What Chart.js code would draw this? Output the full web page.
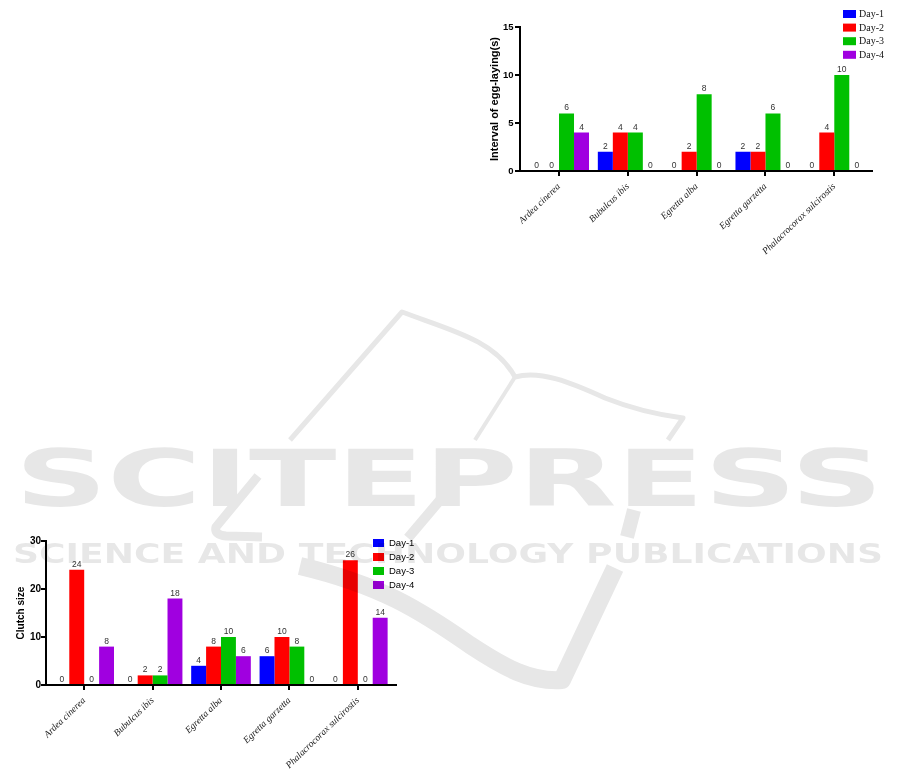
<!DOCTYPE html>
<html>
<head>
<meta charset="utf-8">
<script src="https://cdn.jsdelivr.net/npm/chart.js@4.4.1/dist/chart.umd.min.js"></script>
<style>
  html, body { margin: 0; padding: 0; background: #fff; }
  body { width: 901px; height: 778px; position: relative; overflow: hidden; }
  .box { position: absolute; }
  #intervalBox { left: 470px; top: 0; width: 420px; height: 270px; }
  #clutchBox { left: 0; top: 520px; width: 430px; height: 258px; }
  #mark { position: absolute; left: 0; top: 0; pointer-events: none; }
</style>
</head>
<body>
<div class="box" id="intervalBox"><canvas id="interval-chart"></canvas></div>
<div class="box" id="clutchBox"><canvas id="clutch-chart"></canvas></div>

<svg id="mark" width="901" height="778" xmlns="http://www.w3.org/2000/svg">
  <g opacity="0.095" fill="#000" stroke="#000" stroke-linecap="butt" stroke-linejoin="round">
    <text x="15" y="506" stroke="none" font-family="DejaVu Sans" font-weight="bold" font-size="79" textLength="868" lengthAdjust="spacingAndGlyphs">SCITEPRESS</text>
    <text x="13" y="563" stroke="none" font-family="DejaVu Sans" font-weight="bold" font-size="26" textLength="870" lengthAdjust="spacingAndGlyphs">SCIENCE AND TECHNOLOGY PUBLICATIONS</text>
    <path d="M290,440 L402,312 C450,330 495,340 515,377" fill="none" stroke-width="5"/>
    <path d="M515,377 L475,440" fill="none" stroke-width="4"/>
    <path d="M515,377 C540,370 570,382 605,398 C635,410 660,415 683,418 L668,440" fill="none" stroke-width="5"/>
    <path d="M258,476 L216,527 Q214,535 226,536 L262,537" fill="none" stroke-width="9"/>
    <path d="M452,486 L408,538" fill="none" stroke-width="10"/>
    <path d="M634,510 L627,537" fill="none" stroke-width="14"/>
    <path d="M300,566 C380,585 420,610 470,645 C505,668 530,682 562,680 L615,568" fill="none" stroke-width="18"/>
  </g>
</svg>

<script>
const speciesLabels = ["Ardea cinerea", "Bubulcus ibis", "Egretta alba", "Egretta garzetta", "Phalacrocorax sulcirostis"];
const dayNames = ["Day-1", "Day-2", "Day-3", "Day-4"];
const dayColors = ["#0000FF", "#FF0000", "#00C000", "#A000E0"];

// interval of egg-laying (top right chart)
const intervalDay1 = [0, 2, 0, 2, 0];
const intervalDay2 = [0, 4, 2, 2, 4];
const intervalDay3 = [6, 4, 8, 6, 10];
const intervalDay4 = [4, 0, 0, 0, 0];
const intervalTicks = [0, 5, 10, 15];

// clutch size (bottom left chart)
const clutchDay1 = [0, 0, 4, 6, 0];
const clutchDay2 = [24, 2, 8, 10, 26];
const clutchDay3 = [0, 2, 10, 8, 0];
const clutchDay4 = [8, 18, 6, 0, 14];
const clutchTicks = [0, 10, 20, 30];

// numbers above every bar, zeros included
const barValueLabels = {
    id: "barValueLabels",
    afterDatasetsDraw(chart) {
        const ctx = chart.ctx;
        ctx.save();
        ctx.font = "8.5px 'Liberation Sans', Arial, sans-serif";
        ctx.fillStyle = "#333";
        ctx.textAlign = "center";
        ctx.textBaseline = "alphabetic";
        chart.data.datasets.forEach((ds, i) => {
            chart.getDatasetMeta(i).data.forEach((bar, j) => {
                ctx.fillText(ds.data[j], bar.x, bar.y - 3);
            });
        });
        ctx.restore();
    },
};

// Prism style axes: a little gap between the y axis and the first group
const prismAxes = {
    id: "prismAxes",
    afterDraw(chart, args, opts) {
        const { ctx, chartArea, scales } = chart;
        const left = opts.left;
        const right = opts.right;
        const bottom = Math.round(scales.y.getPixelForValue(0));
        ctx.save();
        ctx.strokeStyle = "#000";
        ctx.lineWidth = 2;
        ctx.beginPath();
        ctx.moveTo(left, chartArea.top - 1);
        ctx.lineTo(left, bottom);
        ctx.lineTo(right, bottom);
        scales.y.ticks.forEach((t) => {
            const py = Math.round(scales.y.getPixelForValue(t.value));
            ctx.moveTo(left - 5, py);
            ctx.lineTo(left, py);
        });
        scales.x.ticks.forEach((t, i) => {
            const px = Math.round(scales.x.getPixelForTick(i));
            ctx.moveTo(px, bottom);
            ctx.lineTo(px, bottom + 5);
        });
        ctx.stroke();
        ctx.restore();
    },
};

const sideLegend = {
    id: "sideLegend",
    afterDraw(chart, args, opts) {
        const ctx = chart.ctx;
        ctx.save();
        ctx.font = opts.font;
        ctx.textAlign = "left";
        ctx.textBaseline = "middle";
        chart.data.datasets.forEach((ds, i) => {
            const cy = opts.y + i * opts.step;
            ctx.fillStyle = ds.backgroundColor;
            ctx.fillRect(opts.x, cy - opts.boxH / 2, opts.boxW, opts.boxH);
            ctx.fillStyle = opts.color;
            ctx.fillText(ds.label, opts.x + opts.boxW + opts.gap, cy + 0.5);
        });
        ctx.restore();
    },
};

function makeDatasets(series) {
    return series.map((values, i) => ({
        label: dayNames[i],
        data: values,
        backgroundColor: dayColors[i],
        borderWidth: 0,
        barPercentage: 1,
        categoryPercentage: 0.872,
    }));
}

function makeConfig(series, ticks, title, fit) {
    return {
        type: "bar",
        data: {
            labels: speciesLabels,
            datasets: makeDatasets(series),
        },
        options: {
            responsive: true,
            maintainAspectRatio: false,
            animation: false,
            events: [],
            layout: { padding: fit.padding },
            plugins: {
                legend: { display: false },
                tooltip: { enabled: false },
                prismAxes: fit.axes,
                sideLegend: fit.legend,
            },
            scales: {
                x: {
                    grid: { display: false },
                    border: { display: false },
                    ticks: {
                        autoSkip: false,
                        minRotation: 44,
                        maxRotation: 44,
                        padding: fit.xPad,
                        color: "#222",
                        font: { family: "'Liberation Serif', 'Times New Roman', serif", style: "italic", size: 9.5 },
                    },
                    afterFit(scale) { scale.height = fit.xHeight; },
                },
                y: {
                    min: ticks[0],
                    max: ticks[ticks.length - 1],
                    grid: { display: false },
                    border: { display: false },
                    ticks: {
                        stepSize: ticks[1] - ticks[0],
                        padding: fit.yPad,
                        color: "#000",
                        font: { family: "'Liberation Sans', Arial, sans-serif", weight: "bold", size: fit.tickSize },
                    },
                    title: {
                        display: true,
                        text: title,
                        color: "#000",
                        padding: { top: fit.titlePad, bottom: 0 },
                        font: { family: "'Liberation Sans', Arial, sans-serif", weight: "bold", size: fit.titleSize },
                    },
                    afterFit(scale) { scale.width = fit.yWidth; },
                },
            },
        },
        plugins: [barValueLabels, prismAxes, sideLegend],
    };
}

const intervalContext = document.getElementById("interval-chart");
const intervalChart = new Chart(intervalContext, makeConfig(
    [intervalDay1, intervalDay2, intervalDay3, intervalDay4],
    intervalTicks,
    "Interval of egg-laying(s)",
    {
        padding: { top: 27, right: 21.3, left: 0, bottom: 0 },
        xHeight: 99,
        yWidth: 54.6,
        xPad: 2,
        yPad: 3,
        tickSize: 9.5,
        titlePad: 18,
        titleSize: 11,
        axes: { left: 50, right: 403 },
        legend: { x: 373, y: 14, step: 13.6, boxW: 13, boxH: 8, gap: 3, color: "#111",
                  font: "10px 'Liberation Serif', 'Times New Roman', serif" },
    }
));

const clutchContext = document.getElementById("clutch-chart");
const clutchChart = new Chart(clutchContext, makeConfig(
    [clutchDay1, clutchDay2, clutchDay3, clutchDay4],
    clutchTicks,
    "Clutch size",
    {
        padding: { top: 21, right: 38, left: 0, bottom: 0 },
        xHeight: 93,
        yWidth: 50,
        xPad: 2,
        yPad: 1,
        tickSize: 10,
        titlePad: 15,
        titleSize: 10,
        axes: { left: 46, right: 397 },
        legend: { x: 373, y: 23, step: 14, boxW: 11, boxH: 8, gap: 5, color: "#000",
                  font: "9.5px 'Liberation Sans', Arial, sans-serif" },
    }
));
</script>
</body>
</html>
